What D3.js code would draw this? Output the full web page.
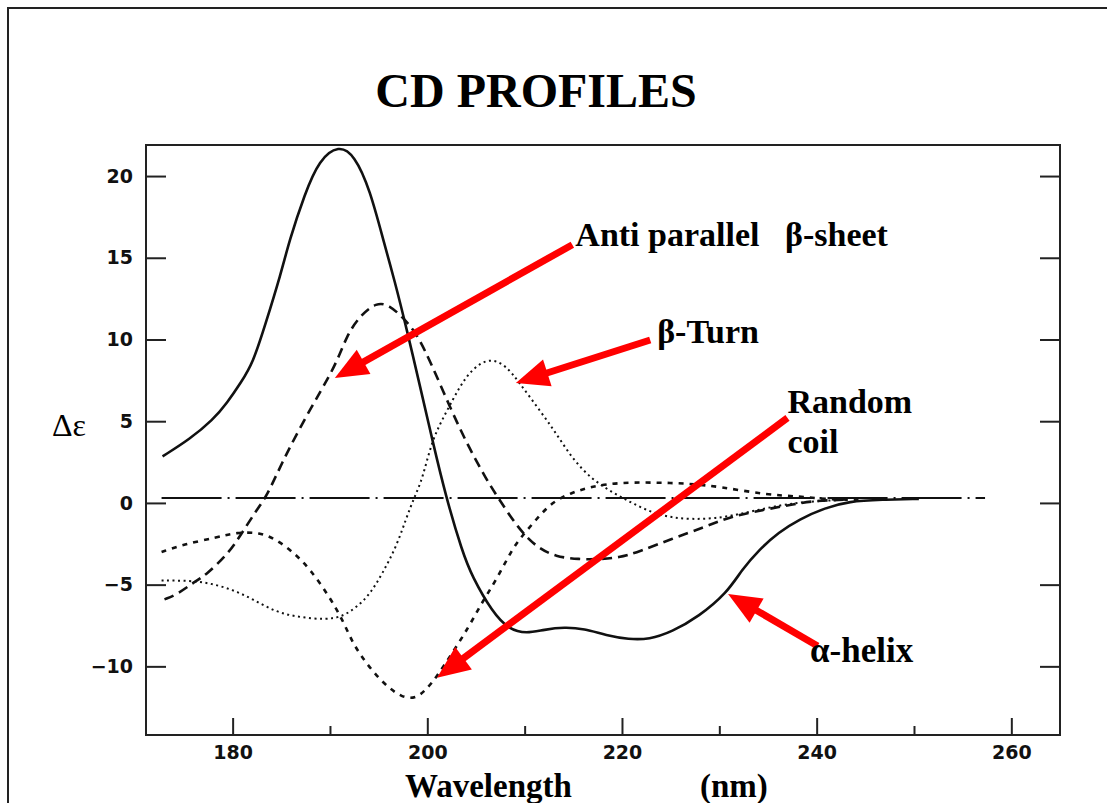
<!DOCTYPE html>
<html>
<head>
<meta charset="utf-8">
<script src="https://cdn.jsdelivr.net/npm/d3@7"></script>
<style>
  body { margin: 0; background: #fff; }
  svg { display: block; }
</style>
</head>
<body>
<script>
var width = 1107, height = 803;

// wavelength (nm) / delta epsilon pairs
var helixX  = [172.8,175.6,178.0,179.4,180.9,182.1,183.3,185.0,185.8,187.4,188.9,190.9,192.5,194.1,195.6,196.6,197.9,199.5,200.5,201.9,203.6,204.6,206.7,208.4,210.2,212.0,214.1,216.1,218.4,220.7,222.8,225.1,227.9,230.8,232.3,234.1,236.1,238.2,240.9,243.3,246.7,250.5];
var helixY  = [2.85,3.9,5.1,6.1,7.4,8.6,10.8,14.1,16.0,18.9,21.0,21.9,21.3,19.2,15.8,13.7,10.6,6.5,3.9,0.4,-3.0,-4.5,-6.7,-7.75,-8.0,-7.75,-7.6,-7.7,-8.1,-8.35,-8.35,-7.9,-6.95,-5.5,-4.1,-2.85,-1.8,-1.0,-0.3,0.1,0.2,0.25];

var sheetX  = [173.0,174.3,175.9,177.3,179.7,181.0,182.5,183.5,185.1,187.0,189.2,190.7,191.7,193.0,194.8,196.1,197.4,198.9,200.5,202.3,204.0,206.1,207.4,209.4,211.2,213.2,215.6,217.6,219.7,221.7,225.1,228.6,231.3,234.8,237.4,239.9,243.3];
var sheetY  = [-5.9,-5.6,-4.9,-4.4,-3.0,-1.8,-0.4,0.4,2.5,4.7,7.0,8.6,10.2,11.4,12.3,12.1,11.4,10.4,8.4,5.9,3.7,1.4,0.2,-1.6,-2.7,-3.3,-3.45,-3.45,-3.35,-3.0,-2.2,-1.45,-0.8,-0.4,-0.1,0.15,0.2];

var turnX   = [172.7,175.6,177.6,180.0,182.1,184.5,186.9,189.6,191.3,192.7,194.1,195.4,196.8,197.8,198.7,199.5,200.5,201.9,203.3,204.6,206.4,208.1,209.4,211.5,213.2,214.9,216.9,219.0,221.0,223.1,225.1,227.2,229.6,232.0,236.4,239.5,243.3];
var turnY   = [-4.75,-4.75,-4.9,-5.3,-5.9,-6.7,-7.0,-7.15,-6.95,-6.4,-5.6,-4.3,-2.7,-1.0,0.4,1.45,3.9,5.5,7.1,8.2,8.9,8.4,7.4,5.7,4.3,2.7,1.45,0.65,0.0,-0.6,-0.9,-1.0,-0.95,-0.7,-0.1,0.1,0.2];

var coilX   = [172.7,174.9,178.4,180.4,182.8,184.5,186.2,187.9,189.9,191.3,192.3,193.7,195.4,197.4,198.9,199.9,200.9,202.6,204.3,205.6,207.1,208.7,209.7,211.2,212.8,214.9,216.9,219.7,223.1,226.6,230.0,234.8,238.2,241.5,244.3];
var coilY   = [-3.0,-2.55,-2.1,-1.8,-1.8,-2.25,-3.0,-4.0,-5.7,-7.15,-8.55,-9.8,-11.0,-11.95,-11.95,-11.4,-10.7,-9.15,-7.55,-6.1,-4.7,-2.85,-2.05,-1.0,0.05,0.65,1.0,1.25,1.25,1.2,1.0,0.5,0.4,0.2,0.2];

var baseX   = [172.7, 257.3];
var baseY   = [0.3, 0.3];

var xMajor  = [180, 200, 220, 240, 260];
var xMinor  = [190, 210, 230, 250];
var yTicks  = [-10, -5, 0, 5, 10, 15, 20];

// annotations: label, arrow tail and tip in data units
var arrowLabels = ["Anti parallel", "β-Turn", "Random", "α-helix"];
var arrowTail   = [[214.9, 15.8], [222.9, 9.97], [237.0, 5.2], [240.1, -8.75]];
var arrowTip    = [[190.5, 7.64], [209.1, 7.34], [201.0, -10.7], [230.9, -5.57]];

var x = d3.scaleLinear().domain([171.1, 265]).range([146, 1060]);
var y = d3.scaleLinear().domain([-14.2, 21.9]).range([735, 145]);

var svg = d3.select("body").append("svg")
  .attr("width", width)
  .attr("height", height);

// outer slide frame
svg.append("path")
  .attr("d", "M8,803 V8 H1107")
  .attr("fill", "none")
  .attr("stroke", "#222")
  .attr("stroke-width", 2);

svg.append("text")
  .attr("x", 536).attr("y", 107)
  .attr("text-anchor", "middle")
  .attr("font-family", "Liberation Serif, Times New Roman, serif")
  .attr("font-weight", "bold")
  .attr("font-size", 48)
  .text("CD PROFILES");

// axes (ticks pointing inward)
var tickFont = "DejaVu Sans, sans-serif";

var gLeft = svg.append("g").attr("transform", "translate(146,0)")
  .call(d3.axisLeft(y).tickValues(yTicks).tickSizeInner(-20).tickSizeOuter(0).tickPadding(13));
var gRight = svg.append("g").attr("transform", "translate(1060,0)")
  .call(d3.axisRight(y).tickValues(yTicks).tickSizeInner(-20).tickSizeOuter(0).tickFormat(""));
var gBottom = svg.append("g").attr("transform", "translate(0,735)")
  .call(d3.axisBottom(x).tickValues(xMajor).tickSizeInner(-17).tickSizeOuter(0).tickPadding(11));
var gMinor = svg.append("g").attr("transform", "translate(0,735)")
  .call(d3.axisBottom(x).tickValues(xMinor).tickSizeInner(-9).tickSizeOuter(0).tickFormat(""));

[gLeft, gRight, gBottom, gMinor].forEach(function(g) {
  g.select(".domain").remove();
  g.selectAll("line").attr("stroke", "#222").attr("stroke-width", 2);
  g.selectAll("text")
    .attr("font-family", tickFont)
    .attr("font-weight", "bold")
    .attr("font-size", 19)
    .attr("fill", "#111");
});

svg.append("rect")
  .attr("x", 146).attr("y", 145)
  .attr("width", 1060 - 146).attr("height", 735 - 145)
  .attr("fill", "none")
  .attr("stroke", "#222")
  .attr("stroke-width", 2);

// curves
var line = d3.line()
  .x(function(d) { return x(d[0]); })
  .y(function(d) { return y(d[1]); })
  .curve(d3.curveBasis);

function pairs(xs, ys) {
  return xs.map(function(v, i) { return [v, ys[i]]; });
}

var series = [
  {pts: pairs(baseX, baseY),   dash: "60,6,2,6",   w: 2},
  {pts: pairs(coilX, coilY),   dash: "5,6",        w: 2.6},
  {pts: pairs(turnX, turnY),   dash: "2,3.5",      w: 2},
  {pts: pairs(sheetX, sheetY), dash: "10,6",       w: 2.6},
  {pts: pairs(helixX, helixY), dash: null,         w: 2.6}
];

svg.selectAll(".curve")
  .data(series)
  .enter()
  .append("path")
  .attr("class", "curve")
  .attr("d", function(s) { return line(s.pts); })
  .attr("fill", "none")
  .attr("stroke", "#111")
  .attr("stroke-width", function(s) { return s.w; })
  .attr("stroke-dasharray", function(s) { return s.dash; });

// red arrows
var headLen = 33, headHalf = 14;
arrowTail.forEach(function(t, i) {
  var x1 = x(t[0]), y1 = y(t[1]);
  var x2 = x(arrowTip[i][0]), y2 = y(arrowTip[i][1]);
  var dx = x2 - x1, dy = y2 - y1, len = Math.sqrt(dx*dx + dy*dy);
  var ux = dx / len, uy = dy / len;
  var bx = x2 - ux * headLen, by = y2 - uy * headLen;
  svg.append("line")
    .attr("x1", x1).attr("y1", y1)
    .attr("x2", bx + ux * 2).attr("y2", by + uy * 2)
    .attr("stroke", "#ff0000")
    .attr("stroke-width", 7);
  svg.append("polygon")
    .attr("points", [[x2, y2], [bx - uy * headHalf, by + ux * headHalf], [bx + uy * headHalf, by - ux * headHalf]].join(" "))
    .attr("fill", "#ff0000");
});

// labels
var serif = "Liberation Serif, Times New Roman, serif";
function label(txt, px, py, size) {
  svg.append("text")
    .attr("x", px).attr("y", py)
    .attr("font-family", serif)
    .attr("font-weight", "bold")
    .attr("font-size", size || 34)
    .text(txt);
}
label(arrowLabels[0], x(arrowTail[0][0]) + 3, y(arrowTail[0][1]) + 1);
label("β-sheet", 785, y(arrowTail[0][1]) + 1);
label(arrowLabels[1], x(arrowTail[1][0]) + 7, y(arrowTail[1][1]) + 3);
label(arrowLabels[2], x(arrowTail[2][0]), 413);
label("coil", x(arrowTail[2][0]), 453);
label(arrowLabels[3], 810, 662, 35);

label("Wavelength", 405, 797, 33);
label("(nm)", 700, 797, 33);

svg.append("text")
  .attr("x", 52).attr("y", 436)
  .attr("font-family", serif)
  .attr("font-size", 32)
  .text("Δε");
</script>
</body>
</html>
